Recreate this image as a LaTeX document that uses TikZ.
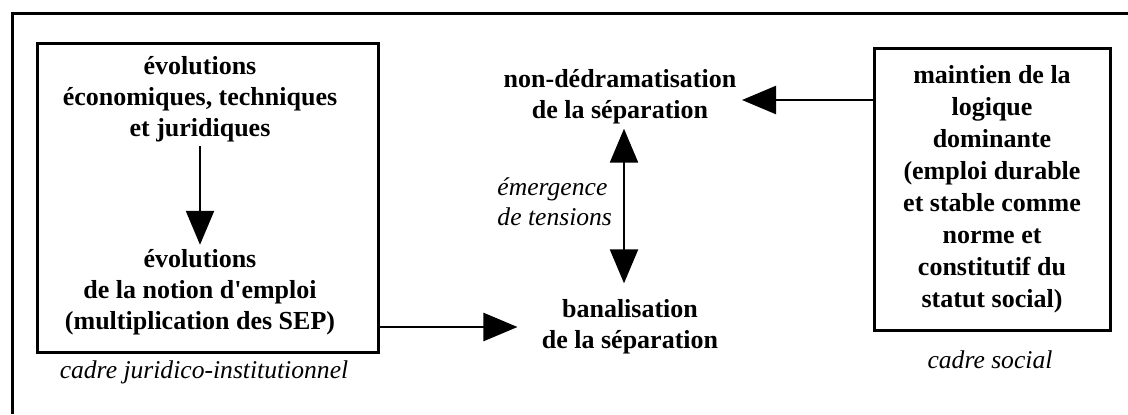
\documentclass[tikz,border=0pt]{standalone}
\usepackage{fontspec}
\setmainfont{Liberation Serif}
\usetikzlibrary{arrows.meta}
\usetikzlibrary{calc}

\begin{document}
\begin{tikzpicture}[x=0.5pt, y=-0.5pt,
	txt/.style={font=\bfseries\fontsize{13}{15.5}\selectfont, align=center, inner sep=2pt},
	legende/.style={font=\itshape\fontsize{12.8}{15}\selectfont, align=center},
	cadre/.style={draw, line width=1.5pt},
	fleche/.style={line width=1.2pt, -{Triangle[length=17pt,width=14pt]}},
	dfleche/.style={line width=1.2pt, {Triangle[length=17pt,width=14pt]}-{Triangle[length=17pt,width=14pt]}}]

	\useasboundingbox (0,0) rectangle (1128,414);

	% cadre general
	\draw[line width=1.5pt] (12,414) -- (12,13) -- (1128,13);

	% cadre juridico-institutionnel
	\node[cadre, minimum width=170.5pt, minimum height=154.5pt] (cadrejur) at (207.5,197.5) {};
	\node[txt] (evoeco) at (200,99) {évolutions\\économiques, techniques\\et juridiques};
	\node[txt] (evoemp) at (200,292) {évolutions\\de la notion d\textquotesingle emploi\\(multiplication des SEP)};
	\draw[fleche] (evoeco) -- (evoemp);
	\node[legende] (capjur) at (204,372) {cadre juridico-institutionnel};

	% centre
	\coordinate (axe) at (624,0);
	\node[txt] (nondedram) at (620,97) {non-dédramatisation\\de la séparation};
	\node[txt] (banal) at (630,327) {banalisation\\de la séparation};
	\draw[dfleche, shorten >=6pt] (nondedram.south -| axe) -- (banal.north -| axe);
	\node[legende, align=left, anchor=east] (tensions) at (619,202) {émergence\\de tensions};
	\draw[fleche, shorten >=10pt] (cadrejur.east |- banal) -- (banal.west);

	% cadre social
	\node[cadre, txt, font=\bfseries\fontsize{13}{16}\selectfont, minimum width=118pt, minimum height=141pt] (cadresoc) at (992,189)
		{maintien de la\\logique\\dominante\\(emploi durable\\et stable comme\\norme et\\constitutif du\\statut social)};
	\coordinate (pointe) at (742,100);
	\draw[fleche] (cadresoc.west |- pointe) -- (pointe);
	\node[legende] (capsoc) at (990,360) {cadre social};

\end{tikzpicture}
\end{document}
